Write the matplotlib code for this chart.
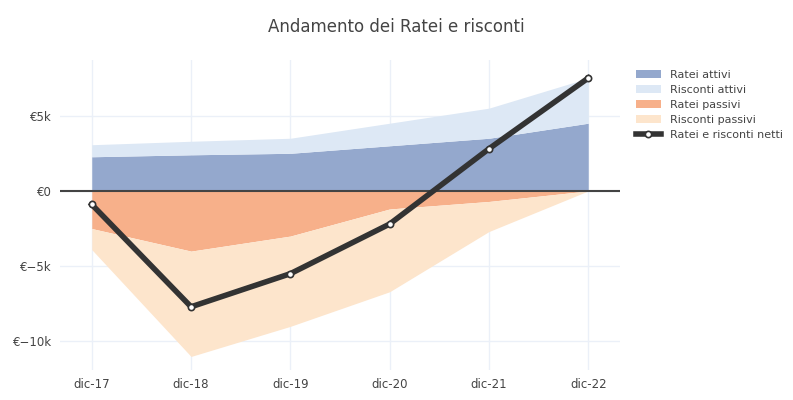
import numpy as np
import matplotlib.pyplot as plt
from matplotlib.ticker import FuncFormatter

labels = ["dic-17", "dic-18", "dic-19", "dic-20", "dic-21", "dic-22"]
ratei_attivi = [2.27, 2.4, 2.5, 3.0, 3.5, 4.5]
risconti_attivi = [0.8, 0.9, 1.0, 1.5, 2.0, 3.0]
ratei_passivi = [-2.5, -4.0, -3.0, -1.2, -0.7, 0.0]
risconti_passivi = [-1.4, -7.0, -6.0, -5.5, -2.0, 0.0]
netti = [-0.9, -7.7, -5.5, -2.2, 2.8, 7.5]

x = np.arange(len(labels))
ra = np.array(ratei_attivi)
rsa = ra + np.array(risconti_attivi)
rp = np.array(ratei_passivi)
rsp = rp + np.array(risconti_passivi)

fig = plt.figure(figsize=(7.93, 4.0), dpi=100)
ax = fig.add_axes([60/793, 30/400, 560/793, 310/400])

ax.fill_between(x, 0, ra, color="#94a8cd", lw=0, label="Ratei attivi")
ax.fill_between(x, ra, rsa, color="#dde8f5", lw=0, label="Risconti attivi")
ax.fill_between(x, 0, rp, color="#f7b08a", lw=0, label="Ratei passivi")
ax.fill_between(x, rp, rsp, color="#fde5cc", lw=0, label="Risconti passivi")
ax.plot(x, netti, color="#333333", lw=4, marker="o", ms=4.5,
        mfc="white", mec="#333333", mew=1.2, label="Ratei e risconti netti", zorder=5)
ax.axhline(0, color="#444444", lw=1.5, zorder=4)

ax.set_xlim(-0.32, 5.32)
ax.set_ylim(-11.9, 8.7)
ax.set_xticks(x)
ax.set_xticklabels(labels)
ax.set_yticks([-10, -5, 0, 5])
ax.yaxis.set_major_formatter(FuncFormatter(
    lambda v, p: "€0" if v == 0 else ("€%dk" % v).replace("-", "−")))
ax.grid(color="#ebf0f8", lw=1)
ax.set_axisbelow(True)
for s in ax.spines.values():
    s.set_visible(False)
ax.tick_params(length=0, labelsize=8.5, colors="#444444", pad=6)

fig.suptitle("Andamento dei Ratei e risconti", x=0.5, y=0.955, fontsize=12, color="#444444")
ax.legend(loc="upper left", bbox_to_anchor=(1.01, 1.0), frameon=False, fontsize=8,
          labelcolor="#444444", handlelength=2.3, borderaxespad=0.5, labelspacing=0.45)

fig.savefig("out.png", dpi=100)
